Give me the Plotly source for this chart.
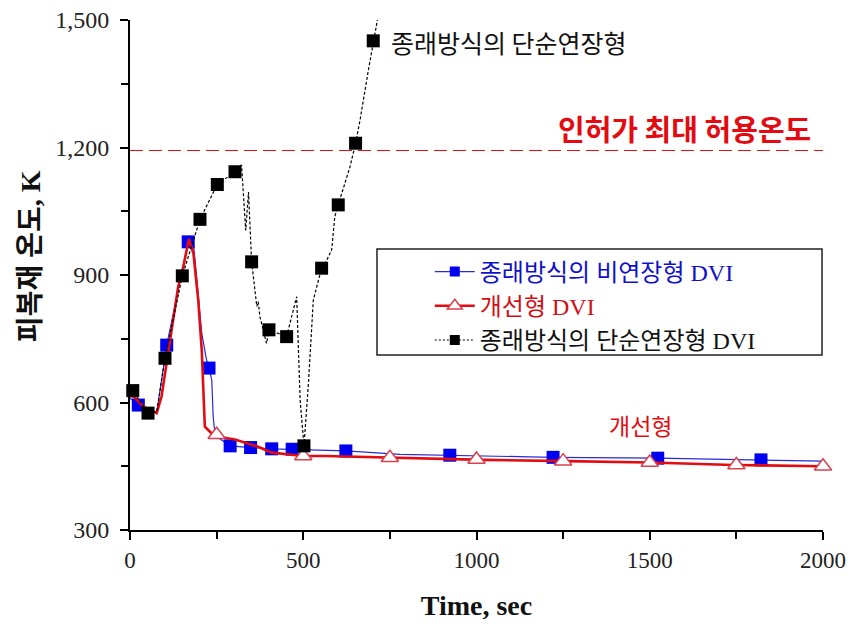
import plotly.graph_objects as go

# ---------------- data ----------------
# 종래방식의 비연장형 DVI (blue) - line trace
blue_t = [0, 24, 77, 106, 168, 183, 192, 207, 221, 228, 236, 240, 245, 250, 289, 313, 348, 409,
          468, 563, 623, 779, 923, 1221, 1523, 1821, 2000]
blue_T = [610, 594, 575, 735, 978, 975, 896, 763, 700, 681, 653, 567, 527, 520, 498, 496, 494, 491,
          490, 487, 486, 478, 476, 471, 469, 465, 462]
# blue markers
blue_mt = [24, 106, 168, 228, 289, 348, 409, 468, 623, 923, 1221, 1523, 1821]
blue_mT = [594, 735, 978, 681, 498, 494, 491, 490, 486, 476, 471, 469, 465]

# 개선형 DVI (red) - line trace
red_t = [0, 10, 40, 77, 91, 115, 139, 154, 170, 183, 197, 207, 212, 216, 236, 264, 303, 370, 409,
         467, 500, 563, 779, 1020, 1260, 1501, 1741, 2000]
red_T = [615, 614, 590, 575, 614, 747, 872, 920, 985, 951, 841, 724, 606, 543, 527, 518, 513, 496, 482,
         476, 474, 474, 469, 465, 462, 459, 453, 450]
# red triangle markers
red_mt = [250, 500, 750, 1000, 1250, 1500, 1750, 2000]
red_mT = [524, 474, 470, 466, 462, 459, 453, 450]

# 종래방식의 단순연장형 DVI (black dotted) - line trace
blk_t = [0, 8, 52, 77, 101, 151, 202, 252, 303, 322, 334, 342, 351, 361, 366, 370, 375, 394, 401,
         452, 481, 491, 502, 515, 529, 553, 568, 582, 591, 601, 611, 635, 651, 664, 688, 702, 714]
blk_T = [630, 628, 575, 578, 704, 898, 1031, 1113, 1143, 1159, 1005, 1095, 931, 857, 826, 837, 802, 739, 771,
         755, 849, 606, 498, 645, 841, 916, 935, 959, 1037, 1065, 1092, 1155, 1210, 1265, 1382, 1451, 1500]
# black markers
blk_mt = [8, 52, 101, 151, 202, 252, 303, 351, 401, 452, 502, 553, 601, 651, 702]
blk_mT = [628, 575, 704, 898, 1031, 1113, 1143, 931, 771, 755, 498, 916, 1065, 1210, 1451]

LIMIT_TEMP = 1193

names = ["종래방식의 비연장형 DVI", "개선형 DVI", "종래방식의 단순연장형 DVI"]

BLUE_LINE = "#2a2ad8"
BLUE_MK = "#0000f0"
RED = "#e30b12"
TRI = "#d84050"
BLACK = "#000000"
SERIF = "Liberation Serif, Noto Sans CJK KR"
KR = "Noto Sans CJK KR, sans-serif"

fig = go.Figure()

# blue
fig.add_trace(go.Scatter(x=blue_t, y=blue_T, mode="lines", line=dict(color=BLUE_LINE, width=1.2),
                         showlegend=False, hoverinfo="skip"))
fig.add_trace(go.Scatter(x=blue_mt, y=blue_mT, mode="markers",
                         marker=dict(symbol="square", size=13, color=BLUE_MK), showlegend=False))
# red
fig.add_trace(go.Scatter(x=red_t, y=red_T, mode="lines", line=dict(color=RED, width=2.6),
                         showlegend=False, hoverinfo="skip"))
fig.add_trace(go.Scatter(x=red_mt, y=red_mT, mode="markers", cliponaxis=False,
                         marker=dict(symbol="triangle-up", size=15, color="white",
                                     line=dict(color=TRI, width=1.5)), showlegend=False))
# black
fig.add_trace(go.Scatter(x=blk_t, y=blk_T, mode="lines", line=dict(color=BLACK, width=1.2, dash="3px,2px"),
                         showlegend=False, hoverinfo="skip"))
fig.add_trace(go.Scatter(x=blk_mt, y=blk_mT, mode="markers", cliponaxis=False,
                         marker=dict(symbol="square", size=13, color=BLACK), showlegend=False))

# legend entries
fig.add_trace(go.Scatter(x=[None], y=[None], mode="lines+markers",
                         name=f"<span style='color:#1010c8'>{names[0]}</span>",
                         line=dict(color=BLUE_LINE, width=1.2),
                         marker=dict(symbol="square", size=10, color=BLUE_MK)))
fig.add_trace(go.Scatter(x=[None], y=[None], mode="lines+markers",
                         name=f"<span style='color:#d01018'>{names[1]}</span>",
                         line=dict(color=RED, width=2.6),
                         marker=dict(symbol="triangle-up", size=13, color="white",
                                     line=dict(color=TRI, width=1.5))))
fig.add_trace(go.Scatter(x=[None], y=[None], mode="lines+markers",
                         name=f"<span style='color:#111111'>{names[2]}</span>",
                         line=dict(color=BLACK, width=1.2, dash="2px,2px"),
                         marker=dict(symbol="square", size=10, color=BLACK)))

fig.add_hline(y=LIMIT_TEMP, line=dict(color=RED, width=1, dash="13px,6px"), layer="below")

# legend frame
fig.add_shape(type="rect", xref="paper", yref="paper", x0=0.3564, x1=0.9986, y0=0.3431, y1=0.551,
              line=dict(color="#222", width=1.5), fillcolor="white", layer="above")

fig.add_annotation(x=747, y=1448, text="종래방식의 단순연장형", showarrow=False, xanchor="left",
                   font=dict(family=KR, size=25, color="#111"))
fig.add_annotation(x=1971, y=1246, text="인허가 최대 허용온도", showarrow=False, xanchor="right",
                   font=dict(family=KR, size=29, color=RED, weight="bold"))
fig.add_annotation(x=1472, y=547, text="개선형", showarrow=False,
                   font=dict(family=KR, size=23, color=RED))
# y-axis title
fig.add_annotation(xref="paper", yref="paper", x=-0.1443, y=0.537, text="<b>피복재 온도, K</b>",
                   textangle=-90, showarrow=False, xanchor="center", yanchor="middle",
                   font=dict(family=SERIF, size=28, color="#111"))

fig.update_xaxes(range=[0, 2000], tickmode="linear", tick0=0, dtick=500, automargin=False,
                 ticklabeloverflow="allow",
                 showline=True, linecolor="black", linewidth=2, ticks="outside", ticklen=8,
                 tickwidth=1.5, tickcolor="black", showgrid=False, zeroline=False,
                 minor=dict(ticks="outside", ticklen=7, tickwidth=1.5, tickcolor="black", dtick=250,
                            tick0=0, showgrid=False),
                 tickfont=dict(family=SERIF, size=23, color="#222"),
                 title=dict(text="<b>Time, sec</b>", font=dict(family=SERIF, size=28, color="#111"),
                            standoff=24))
fig.update_yaxes(range=[300, 1500], tickmode="linear", tick0=300, dtick=300, tickformat=",d",
                 automargin=False, ticklabelstandoff=6, ticklabeloverflow="allow",
                 showline=True, linecolor="black", linewidth=2, ticks="outside", ticklen=8,
                 tickwidth=1.5, tickcolor="black", showgrid=False, zeroline=False,
                 minor=dict(ticks="outside", ticklen=7, tickwidth=1.5, tickcolor="black", dtick=150,
                            tick0=300, showgrid=False),
                 tickfont=dict(family=SERIF, size=24, color="#222"))

fig.update_layout(
    width=849, height=622,
    margin=dict(l=122, r=34, t=12, b=100),
    paper_bgcolor="white", plot_bgcolor="white",
    legend=dict(x=0.4326, y=0.550, xanchor="left", yanchor="top", bgcolor="rgba(0,0,0,0)",
                borderwidth=0, font=dict(family=SERIF, size=24), itemwidth=40,
                tracegroupgap=0),
    showlegend=True,
)

fig.write_html("out.html")
